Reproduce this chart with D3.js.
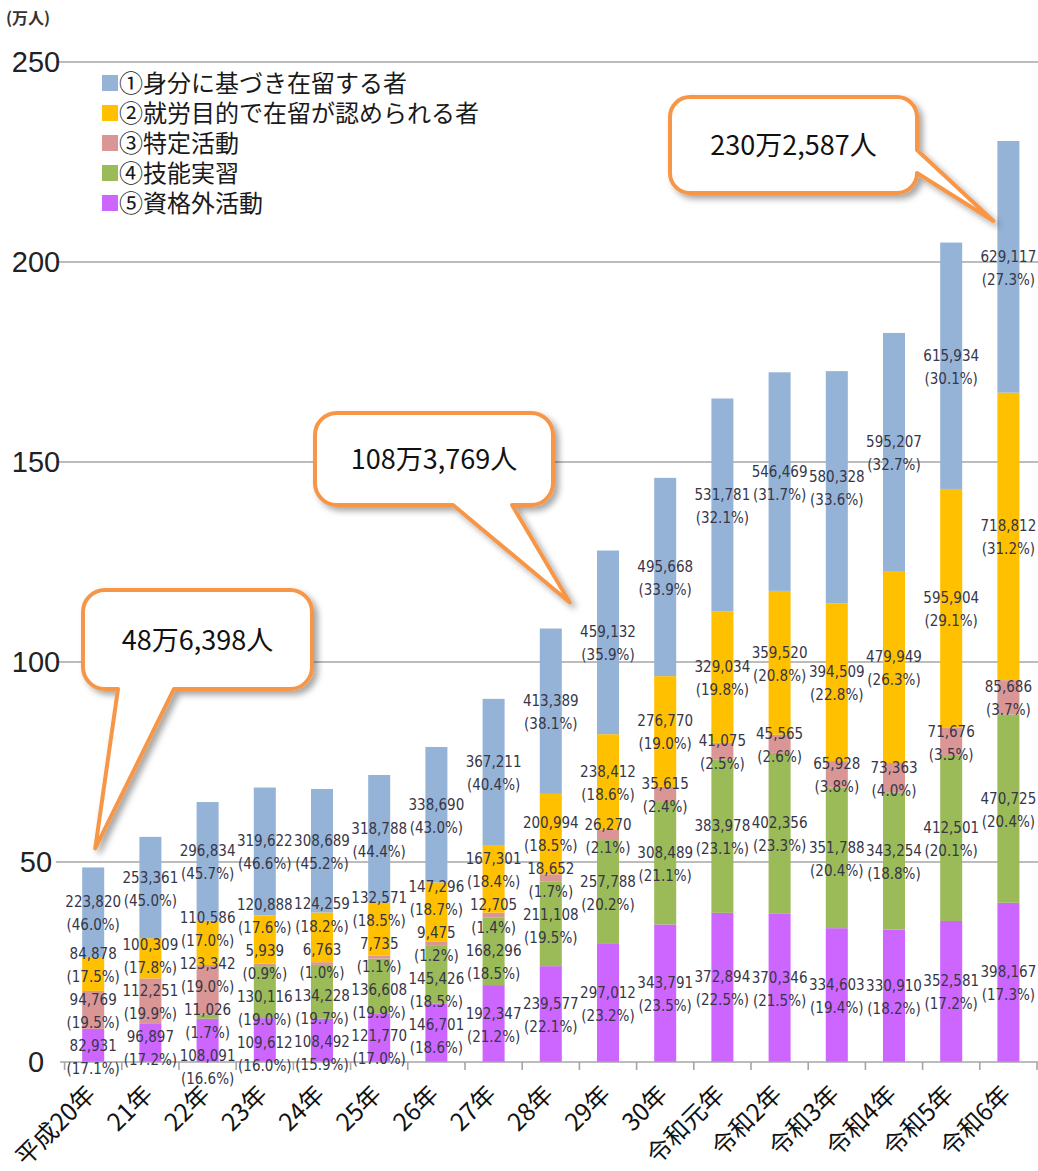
<!DOCTYPE html>
<html>
<head>
<meta charset="UTF-8">
<style>
  body { margin: 0; background: #fff; }
  svg { display: block; }
  .lbl { font-family: "DejaVu Sans Condensed", "Liberation Sans Narrow", sans-serif; font-size: 15px; fill: #363648; }
  .ytick { font-family: "Liberation Sans", Arial, sans-serif; font-size: 29px; fill: #222; }
  .xtick { font-family: "Noto Sans CJK JP", sans-serif; font-size: 24.5px; fill: #111; }
  .legend { font-family: "Noto Sans CJK JP", sans-serif; font-size: 24px; fill: #1a1a1a; }
  .unit { font-family: "Noto Sans CJK JP", sans-serif; font-size: 16px; font-weight: bold; fill: #333; }
  .callout { font-family: "Noto Sans CJK JP", sans-serif; font-size: 27px; fill: #111; }
</style>
</head>
<body>
<svg></svg>
<script src="https://d3js.org/d3.v7.min.js"></script>
<script>

let width = 1038, height = 1171;

// years on the x axis
const years = ["平成20年", "21年", "22年", "23年", "24年", "25年", "26年", "27年", "28年", "29年",
               "30年", "令和元年", "令和2年", "令和3年", "令和4年", "令和5年", "令和6年"];

// ① 身分に基づき在留する者
const mibun    = [223820, 253361, 296834, 319622, 308689, 318788, 338690, 367211, 413389, 459132,
                  495668, 531781, 546469, 580328, 595207, 615934, 629117];
const mibunPct = [46.0, 45.0, 45.7, 46.6, 45.2, 44.4, 43.0, 40.4, 38.1, 35.9, 33.9, 32.1, 31.7, 33.6, 32.7, 30.1, 27.3];

// ② 就労目的で在留が認められる者
const shuro    = [84878, 100309, 110586, 120888, 124259, 132571, 147296, 167301, 200994, 238412,
                  276770, 329034, 359520, 394509, 479949, 595904, 718812];
const shuroPct = [17.5, 17.8, 17.0, 17.6, 18.2, 18.5, 18.7, 18.4, 18.5, 18.6, 19.0, 19.8, 20.8, 22.8, 26.3, 29.1, 31.2];

// ③ 特定活動
const tokutei    = [94769, 112251, 123342, 5939, 6763, 7735, 9475, 12705, 18652, 26270,
                    35615, 41075, 45565, 65928, 73363, 71676, 85686];
const tokuteiPct = [19.5, 19.9, 19.0, 0.9, 1.0, 1.1, 1.2, 1.4, 1.7, 2.1, 2.4, 2.5, 2.6, 3.8, 4.0, 3.5, 3.7];

// ④ 技能実習 (none before 22年)
const ginou    = [0, 0, 11026, 130116, 134228, 136608, 145426, 168296, 211108, 257788,
                  308489, 383978, 402356, 351788, 343254, 412501, 470725];
const ginouPct = [0, 0, 1.7, 19.0, 19.7, 19.9, 18.5, 18.5, 19.5, 20.2, 21.1, 23.1, 23.3, 20.4, 18.8, 20.1, 20.4];

// ⑤ 資格外活動
const shikakugai    = [82931, 96897, 108091, 109612, 108492, 121770, 146701, 192347, 239577, 297012,
                       343791, 372894, 370346, 334603, 330910, 352581, 398167];
const shikakugaiPct = [17.1, 17.2, 16.6, 16.0, 15.9, 17.0, 18.6, 21.2, 22.1, 23.2, 23.5, 22.5, 21.5, 19.4, 18.2, 17.2, 17.3];

const yTicks = [0, 50, 100, 150, 200, 250];

// callout totals
const calloutYears  = ["平成20年", "28年", "令和6年"];
const calloutTotals = [486398, 1083769, 2302587];

// series in stacking order (bottom -> top)
const series = [
  { key: "shikakugai", name: "⑤資格外活動", values: shikakugai, pct: shikakugaiPct, color: "#cc66ff" },
  { key: "ginou",      name: "④技能実習",   values: ginou,      pct: ginouPct,      color: "#9bbb59" },
  { key: "tokutei",    name: "③特定活動",   values: tokutei,    pct: tokuteiPct,    color: "#d99694" },
  { key: "shuro",      name: "②就労目的で在留が認められる者", values: shuro, pct: shuroPct, color: "#ffc000" },
  { key: "mibun",      name: "①身分に基づき在留する者",       values: mibun, pct: mibunPct, color: "#95b3d7" }
];

let svg = d3.select("svg")
    .attr("width", width)
    .attr("height", height);

let defs = svg.append("defs");
defs.append("filter")
    .attr("id", "shadow")
    .attr("x", "-20%").attr("y", "-20%").attr("width", "140%").attr("height", "140%")
  .append("feDropShadow")
    .attr("dx", 4).attr("dy", 4).attr("stdDeviation", 3)
    .attr("flood-color", "#000").attr("flood-opacity", 0.35);

// table for the stack: one row per year, values in 万人
let table = years.map((yr, i) => {
  let row = { year: yr };
  series.forEach(s => row[s.key] = s.values[i] / 10000);
  return row;
});

let stacked = d3.stack().keys(series.map(s => s.key))(table);

let x = d3.scaleBand()
    .domain(years)
    .range([64.6, 1037])
    .padding(0);

let y = d3.scaleLinear()
    .domain([0, 250])
    .range([1062, 62]);

let barW = x.bandwidth() * 0.385;

// grid lines
svg.append("g")
    .selectAll("line")
    .data(yTicks.filter(d => d > 0))
    .enter().append("line")
    .attr("x1", 56).attr("x2", width)
    .attr("y1", d => y(d)).attr("y2", d => y(d))
    .attr("stroke", "#a6a6a6")
    .attr("stroke-width", 1.6);

// y tick labels
svg.append("g")
    .selectAll("text")
    .data(yTicks)
    .enter().append("text")
    .attr("class", "ytick")
    .attr("x", 36)
    .attr("y", d => y(d) + 10)
    .attr("text-anchor", "middle")
    .text(d => d);

svg.append("text")
    .attr("class", "unit")
    .attr("x", 6)
    .attr("y", 24)
    .text("(万人)");

// bars
svg.append("g")
    .selectAll("g")
    .data(stacked)
    .enter().append("g")
    .attr("fill", (d, i) => series[i].color)
    .selectAll("rect")
    .data(d => d)
    .enter().append("rect")
    .attr("x", d => x(d.data.year) + (x.bandwidth() - barW) / 2)
    .attr("width", barW)
    .attr("y", d => y(d[1]))
    .attr("height", d => y(d[0]) - y(d[1]));

// x axis line and ticks
let xAxis = svg.append("g");
xAxis.append("line")
    .attr("x1", 60).attr("x2", width)
    .attr("y1", y(0)).attr("y2", y(0))
    .attr("stroke", "#a6a6a6").attr("stroke-width", 1.6);
xAxis.selectAll("line.tick")
    .data(years.concat(["end"]))
    .enter().append("line")
    .attr("class", "tick")
    .attr("x1", (d, i) => i < years.length ? x(d) : x.range()[1])
    .attr("x2", (d, i) => i < years.length ? x(d) : x.range()[1])
    .attr("y1", y(0)).attr("y2", y(0) + 8)
    .attr("stroke", "#a6a6a6").attr("stroke-width", 1.6);

xAxis.selectAll("text")
    .data(years)
    .enter().append("text")
    .attr("class", "xtick")
    .attr("text-anchor", "end")
    .attr("transform", d => `translate(${x(d) + x.bandwidth() / 2 + 4}, ${y(0) + 34}) rotate(-45)`)
    .text(d => d);

// data labels: centred on each segment, then spread apart so they don't collide
let fmt = d3.format(",");
let minGap = 46;
let labelGroup = svg.append("g");

years.forEach((yr, i) => {
  let labs = [];
  stacked.forEach((layer, si) => {
    let s = series[si];
    if (s.values[i] <= 0) return;
    let seg = layer[i];
    labs.push({ cy: (y(seg[0]) + y(seg[1])) / 2, v: s.values[i], p: s.pct[i] });
  });
  for (let iter = 0; iter < 200; iter++) {
    for (let k = 0; k < labs.length - 1; k++) {
      let gap = labs[k].cy - labs[k + 1].cy;
      if (gap < minGap) {
        let shift = (minGap - gap) / 2;
        labs[k].cy += shift;
        labs[k + 1].cy -= shift;
      }
    }
  }
  let cx = x(yr) + x.bandwidth() / 2;
  labs.forEach(l => {
    let t = labelGroup.append("text")
        .attr("class", "lbl")
        .attr("text-anchor", "middle");
    t.append("tspan").attr("x", cx).attr("y", l.cy - 5).text(fmt(l.v));
    t.append("tspan").attr("x", cx).attr("y", l.cy + 18).text("(" + l.p.toFixed(1) + "%)");
  });
});

// legend
let legendData = series.slice().reverse();
let legend = svg.append("g");
legend.selectAll("rect")
    .data(legendData)
    .enter().append("rect")
    .attr("x", 102)
    .attr("y", (d, i) => 75 + i * 30)
    .attr("width", 16).attr("height", 16)
    .attr("fill", d => d.color);
legend.selectAll("text")
    .data(legendData)
    .enter().append("text")
    .attr("class", "legend")
    .attr("x", 119)
    .attr("y", (d, i) => 92 + i * 30)
    .text(d => d.name);

// callouts
function calloutPath(b, t) {
  let r = b.r;
  let p = `M${b.x0 + r},${b.y0} H${b.x1 - r} A${r},${r} 0 0 1 ${b.x1},${b.y0 + r} `;
  if (t.side === "right") {
    p += `V${t.a} L${t.tip[0]},${t.tip[1]} L${b.x1},${t.b} `;
  }
  p += `V${b.y1 - r} A${r},${r} 0 0 1 ${b.x1 - r},${b.y1} `;
  if (t.side === "bottom") {
    p += `H${t.b} L${t.tip[0]},${t.tip[1]} L${t.a},${b.y1} `;
  }
  p += `H${b.x0 + r} A${r},${r} 0 0 1 ${b.x0},${b.y1 - r} V${b.y0 + r} A${r},${r} 0 0 1 ${b.x0 + r},${b.y0} Z`;
  return p;
}

function totalOf(yr) {
  let i = years.indexOf(yr);
  return stacked[stacked.length - 1][i][1];
}

let calloutBoxes = [
  { box: { x0: 83, y0: 590, x1: 312, y1: 689, r: 22 }, side: "bottom", a: 118, b: 174, dx: 2, dy: 19 },
  { box: { x0: 315, y0: 413, x1: 553, y1: 505, r: 22 }, side: "bottom", a: 453, b: 512, dx: 19, dy: 26 },
  { box: { x0: 670, y0: 97, x1: 917, y1: 193, r: 20 }, side: "right", a: 150, b: 173, dx: -15, dy: -80 }
];

calloutYears.forEach((yr, i) => {
  let c = calloutBoxes[i];
  let cx = x(yr) + x.bandwidth() / 2;
  let tip = [cx + c.dx, y(totalOf(yr)) - c.dy];
  let g = svg.append("g");
  g.append("path")
      .attr("d", calloutPath(c.box, { side: c.side, a: c.a, b: c.b, tip: tip }))
      .attr("fill", "#fff")
      .attr("stroke", "#f79646")
      .attr("stroke-width", 4)
      .attr("stroke-linejoin", "round")
      .attr("filter", "url(#shadow)");
  let v = calloutTotals[i];
  g.append("text")
      .attr("class", "callout")
      .attr("x", (c.box.x0 + c.box.x1) / 2)
      .attr("y", (c.box.y0 + c.box.y1) / 2 + 10)
      .attr("text-anchor", "middle")
      .text(Math.floor(v / 10000) + "万" + fmt(v % 10000) + "人");
});

</script>
</body>
</html>
